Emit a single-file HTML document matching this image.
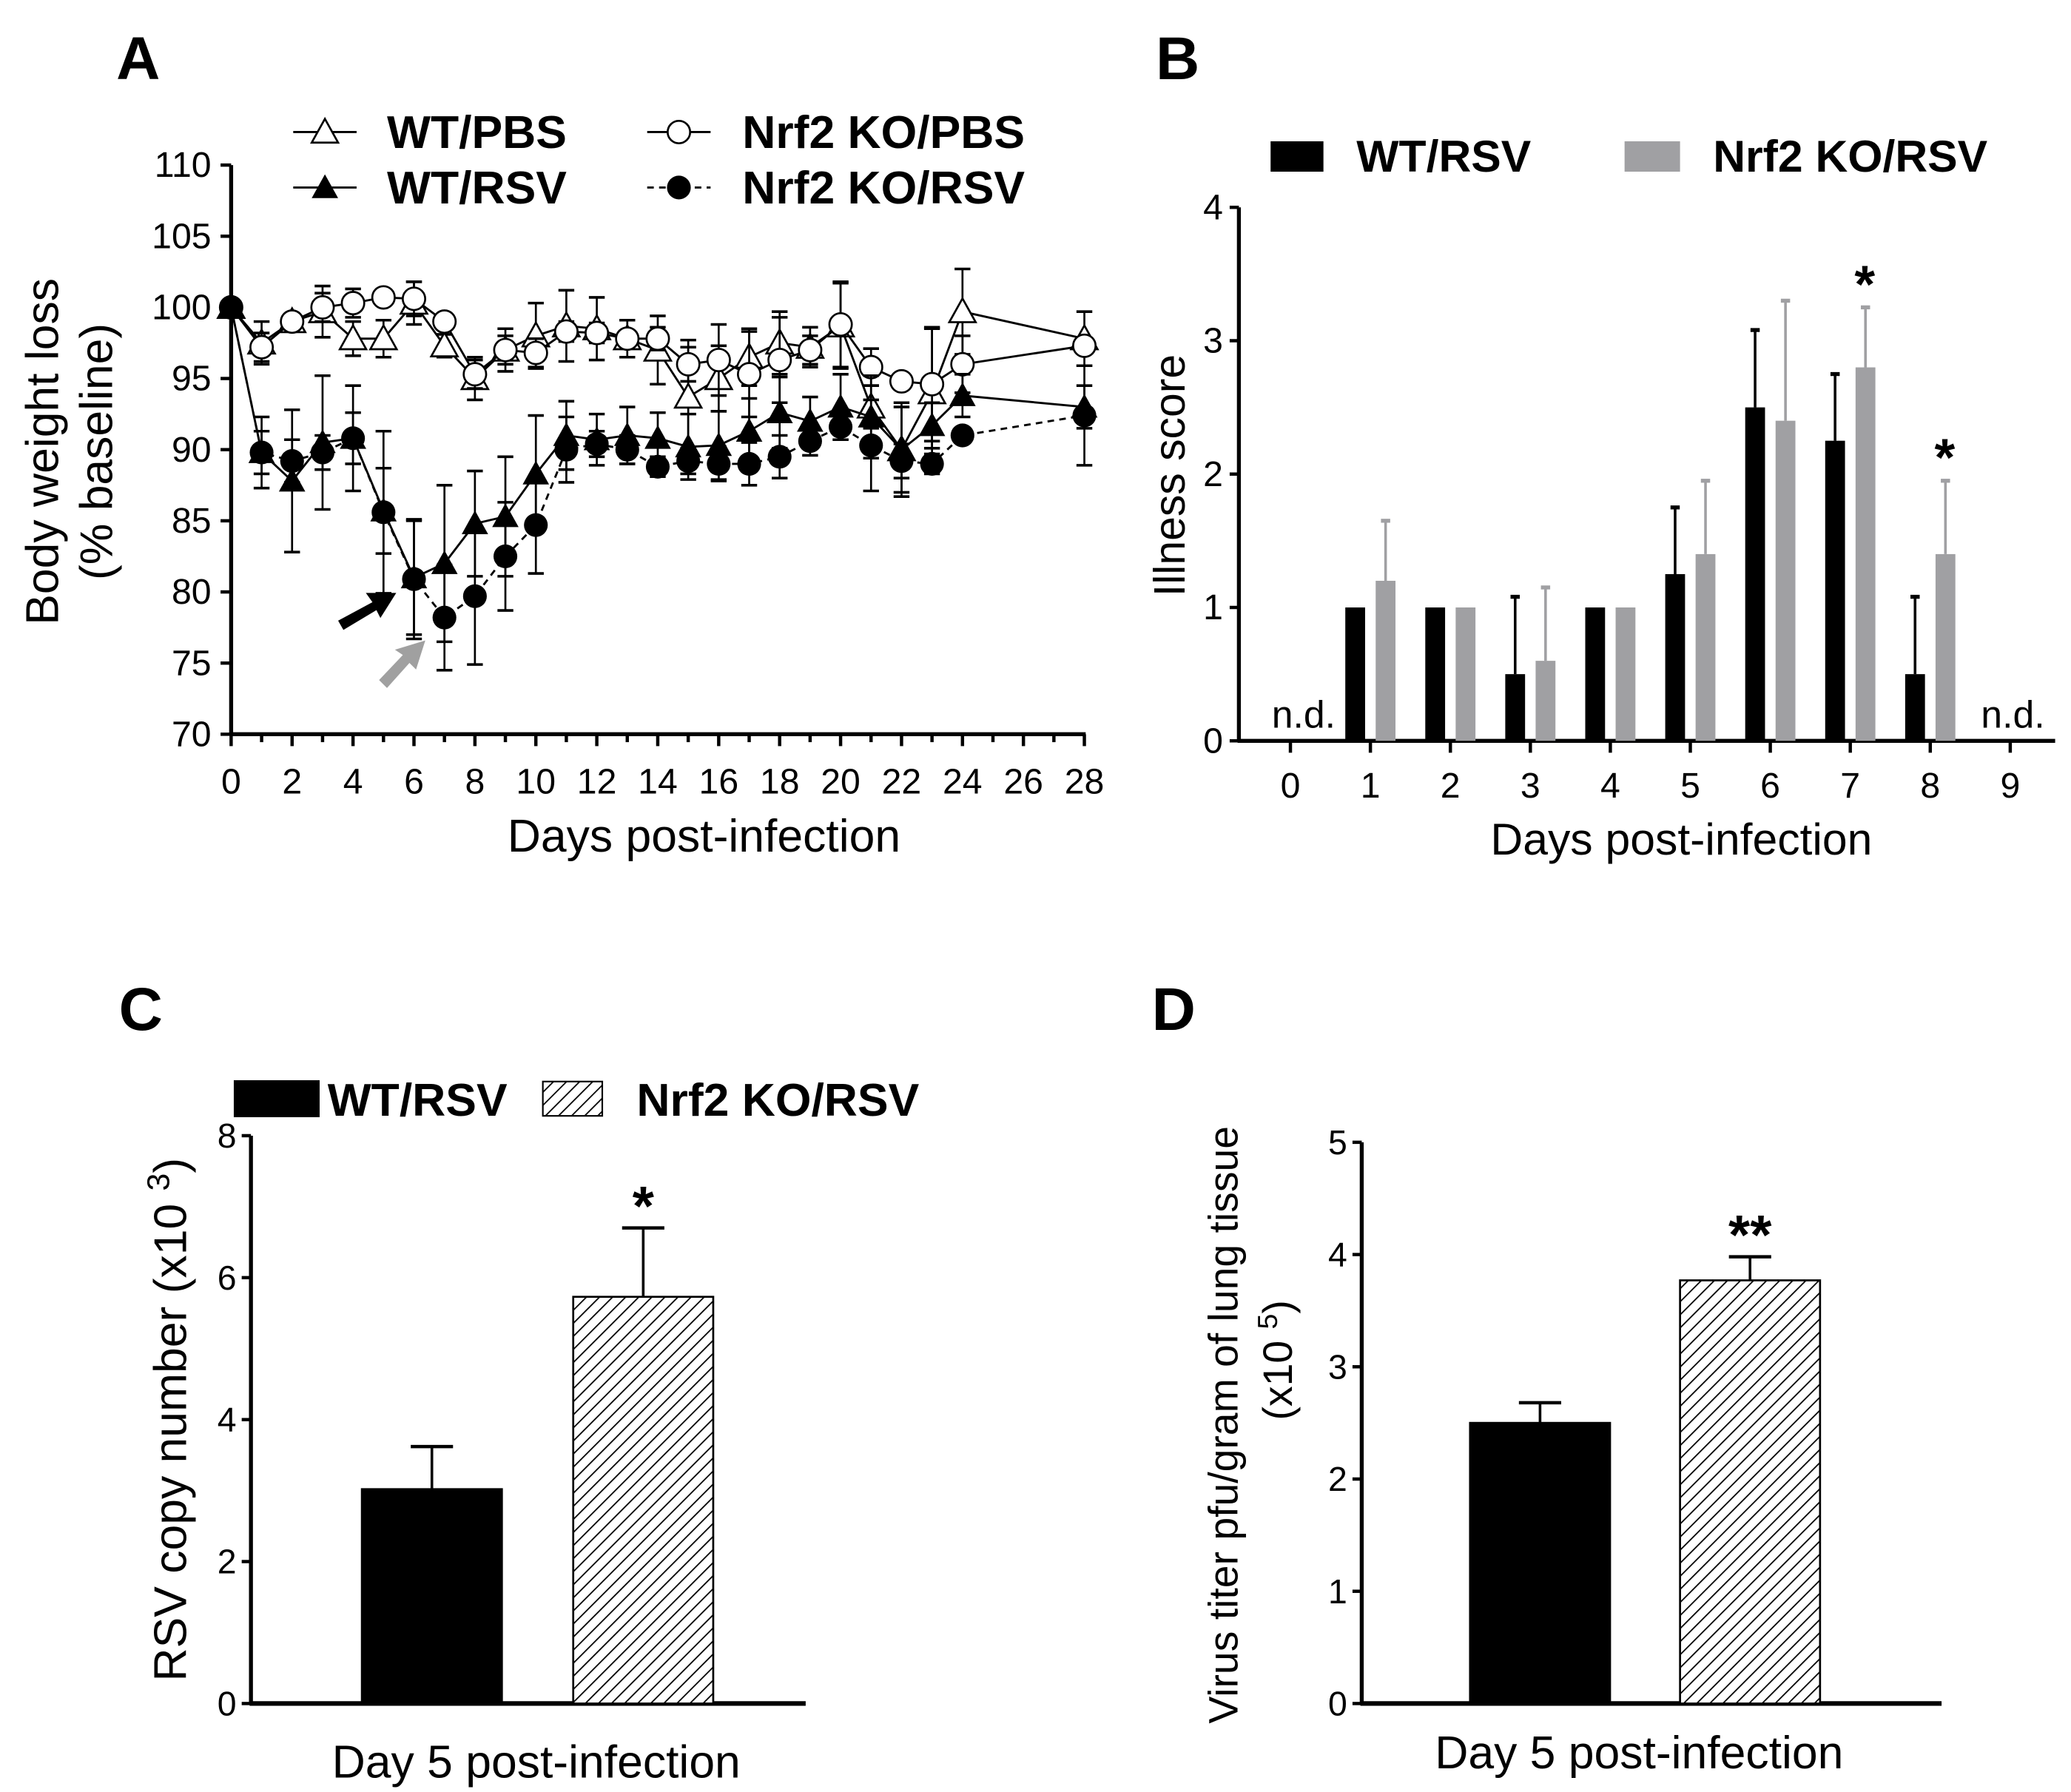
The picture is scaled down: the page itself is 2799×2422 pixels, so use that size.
<!DOCTYPE html>
<html><head><meta charset="utf-8">
<style>
html,body{margin:0;padding:0;background:#fff;}
svg{display:block;}
text{font-family:"Liberation Sans",Arial,sans-serif;fill:#000;}
</style></head>
<body>
<svg id="fig" width="2799" height="2422" viewBox="0 0 1568 1357" preserveAspectRatio="none" xmlns="http://www.w3.org/2000/svg">
<defs>
<pattern id="hatch" patternUnits="userSpaceOnUse" width="7" height="7" patternTransform="rotate(45)">
<rect width="7" height="7" fill="#fff"/><line x1="0" y1="0" x2="0" y2="7" stroke="#000" stroke-width="2"/>
</pattern>
</defs>
</svg>
<script>
// ---------- Panel A data ----------
const aDays=[0,1,2,3,4,5,6,7,8,9,10,11,12,13,14,15,16,17,18,19,20,21,22,23,24,28];
const wtPbs=[100,97.5,99,99.7,97.8,97.8,100.3,97.3,95,97,98,98.7,98.5,97.8,97,93.7,95,96.5,97.5,97.2,98.7,93,90,94,99.7,97.8];
const wtPbsErr=[0,1.5,0.5,1.8,1.2,1.3,1.5,0.8,1.5,1.5,2.3,2.5,2.2,1.3,2.4,4,2.3,2,2.2,1.4,3,1.5,3,4.5,3,1.9];
const koPbs=[100,97.2,99,100,100.3,100.7,100.6,99,95.3,97,96.8,98.3,98.2,97.8,97.8,96,96.3,95.3,96.3,97,98.8,95.8,94.8,94.6,96,97.3];
const koPbsErr=[0,1,0.5,1,1,0.5,1.2,0.5,1,1,1,0.7,0.7,0.5,0.8,1.2,2.5,3,3,1,3,1.3,0.5,4,2,0.5];
const wtRsv=[100,89.8,87.8,90.5,90.8,85.7,81,82,84.8,85.3,88.3,91,90.7,91,90.8,90.2,90.3,91.3,92.6,92,93,92.3,90,91.7,93.8,93];
const wtRsvErr=[0,2.5,5,4.7,3.7,3,4,5.5,3.7,4.2,4.1,2.4,1.8,2,1.8,2.3,2.4,2.3,2.5,1.7,2.3,2.9,3.3,1.6,1.5,1.5];
const koRsv=[100,89.8,89.2,89.8,90.8,85.6,80.9,78.2,79.7,82.5,84.7,90,90.4,90,88.8,89.2,89,89,89.5,90.6,91.6,90.3,89.2,89,91,92.4];
const koRsvErr=[0,1.5,1.5,1.2,1.8,5.7,4.2,3.7,4.8,3.8,3.4,2.3,0.9,1,0.7,0.9,1.2,1.5,1.5,1,0.9,3.2,1.2,0.7,0.5,3.5];
const aXTicks=[0,2,4,6,8,10,12,14,16,18,20,22,24,26,28];
const aYTicks=[70,75,80,85,90,95,100,105,110];
// ---------- Panel B data ----------
const bCats=[0,1,2,3,4,5,6,7,8,9];
const bWt=[null,1,1,0.5,1,1.25,2.5,2.25,0.5,null];
const bWtErr=[0,0,0,0.58,0,0.5,0.58,0.5,0.58,0];
const bKo=[null,1.2,1,0.6,1,1.4,2.4,2.8,1.4,null];
const bKoErr=[0,0.45,0,0.55,0,0.55,0.9,0.45,0.55,0];
const bYTicks=[0,1,2,3,4];
// ---------- Panel C data ----------
const cVals=[3.02,5.73];
const cErr=[0.6,0.97];
const cYTicks=[0,2,4,6,8];
// ---------- Panel D data ----------
const dVals=[2.5,3.77];
const dErr=[0.18,0.21];
const dYTicks=[0,1,2,3,4,5];

const NS="http://www.w3.org/2000/svg";
const svg=document.getElementById('fig');
function el(tag,attrs,parent){const e=document.createElementNS(NS,tag);for(const k in attrs)e.setAttribute(k,attrs[k]);(parent||svg).appendChild(e);return e;}
function txt(s,attrs,parent){const t=el('text',attrs,parent);t.textContent=s;return t;}

// ===== Panel A =====
const gA=el('g',{});


const ax=d=>175+d*(821-175)/28;
const ay=v=>556-(v-70)*(556-125)/40;
let t=txt('A',{x:88,y:60,'font-size':46,'font-weight':'bold'},gA);

el('line',{x1:175,y1:125,x2:175,y2:557,stroke:'#000','stroke-width':3},gA);
el('line',{x1:174,y1:556,x2:822,y2:556,stroke:'#000','stroke-width':3},gA);
aYTicks.forEach(v=>{el('line',{x1:167,y1:ay(v),x2:175,y2:ay(v),stroke:'#000','stroke-width':2.5},gA);
 const l=txt(String(v),{x:160,y:ay(v)+9,'font-size':27,'text-anchor':'end'},gA);
 });
for(let d=0;d<=28;d++){el('line',{x1:ax(d),y1:556,x2:ax(d),y2:d%2?562:565,stroke:'#000','stroke-width':2.5},gA);}
aXTicks.forEach(d=>{const l=txt(String(d),{x:ax(d),y:601,'font-size':27,'text-anchor':'middle'},gA);
 });
t=txt('Days post-infection',{x:533,y:645,'font-size':35,'text-anchor':'middle'},gA);

t=txt('Body weight loss',{x:0,y:0,'font-size':35,'text-anchor':'middle',transform:'translate(44,342) rotate(-90)'},gA);

t=txt('(% baseline)',{x:0,y:0,'font-size':35,'text-anchor':'middle',transform:'translate(85,342) rotate(-90)'},gA);


function marker(type,x,y,g){
 if(type==='otri')return el('polygon',{points:`${x},${y-10} ${x-10},${y+8} ${x+10},${y+8}`,fill:'#fff',stroke:'#000','stroke-width':1.5},g);
 if(type==='ftri')return el('polygon',{points:`${x},${y-10} ${x-10},${y+8} ${x+10},${y+8}`,fill:'#000'},g);
 if(type==='ocirc')return el('circle',{cx:x,cy:y,r:8.5,fill:'#fff',stroke:'#000','stroke-width':1.5},g);
 return el('circle',{cx:x,cy:y,r:9,fill:'#000'},g);
}
function series(vals,errs,type,dash,name){
 const g=el('g',{},gA);
 
 
 vals.forEach((v,i)=>{const e=errs[i];if(!e)return;const x=ax(aDays[i]);
  el('line',{x1:x,y1:ay(v-e),x2:x,y2:ay(v+e),stroke:'#000','stroke-width':1.5},g);
  [v-e,v+e].forEach(w=>el('line',{x1:x-6,y1:ay(w),x2:x+6,y2:ay(w),stroke:'#000','stroke-width':2},g));});
 const pts=vals.map((v,i)=>ax(aDays[i])+','+ay(v)).join(' ');
 const pl=el('polyline',{points:pts,fill:'none',stroke:'#000','stroke-width':1.6,'stroke-dasharray':dash||'none'},g);
 
 vals.forEach((v,i)=>{const m=marker(type,ax(aDays[i]),ay(v),g);
  });
}
series(wtPbs,wtPbsErr,'otri','', 'wt-pbs-series');
series(koPbs,koPbsErr,'ocirc','', 'nrf2-ko-pbs-series');
series(wtRsv,wtRsvErr,'ftri','', 'wt-rsv-series');
series(koRsv,koRsvErr,'fcirc','5,4', 'nrf2-ko-rsv-series');
// arrows
let ar=el('path',{d:'M256,470 L282,456 L277,449 L300,449 L288,468 L285,462 L260,477 Z',fill:'#000'},gA);

ar=el('path',{d:'M287,515 L305,496 L299,492 L322,485 L315,507 L310,502 L293,521 Z',fill:'#a0a0a0'},gA);

// legend A
const legA=[['otri','',222,100,'WT/PBS',293],['ftri','',222,142,'WT/RSV',293],['ocirc','',490,100,'Nrf2 KO/PBS',562],['fcirc','5,4',490,142,'Nrf2 KO/RSV',562]];
legA.forEach(l=>{const g=el('g',{},gA);
 
 el('line',{x1:l[2],y1:l[3],x2:l[2]+48,y2:l[3],stroke:'#000','stroke-width':1.6,'stroke-dasharray':l[1]||'none'},g);
 marker(l[0],l[2]+24,l[3],g);
 txt(l[4],{x:l[5],y:l[3]+12,'font-size':35,'font-weight':'bold'},g);});

// ===== Panel B =====
const gB=el('g',{});


const bx=c=>977+c*(1522-977)/9;
const by=v=>561-v*(561-157)/4;
t=txt('B',{x:875,y:60,'font-size':46,'font-weight':'bold'},gB);

el('line',{x1:938,y1:157,x2:938,y2:562,stroke:'#000','stroke-width':3},gB);
el('line',{x1:937,y1:561,x2:1556,y2:561,stroke:'#000','stroke-width':3},gB);
bYTicks.forEach(v=>{el('line',{x1:931,y1:by(v),x2:938,y2:by(v),stroke:'#000','stroke-width':2.5},gB);
 const l=txt(String(v),{x:926,y:by(v)+9,'font-size':27,'text-anchor':'end'},gB);
 });
bCats.forEach(c=>{el('line',{x1:bx(c),y1:561,x2:bx(c),y2:570,stroke:'#000','stroke-width':2.5},gB);
 const l=txt(String(c),{x:bx(c),y:604,'font-size':27,'text-anchor':'middle'},gB);
 });
function bBar(v,e,x0,color,name){if(v===null)return;
 const g=el('g',{},gB);
 
 el('rect',{x:x0,y:by(v),width:15,height:561-by(v),fill:color},g);
 if(e){el('line',{x1:x0+7.5,y1:by(v),x2:x0+7.5,y2:by(v+e),stroke:color,'stroke-width':2},g);
  el('line',{x1:x0+4,y1:by(v+e),x2:x0+11,y2:by(v+e),stroke:color,'stroke-width':3},g);}
}
bCats.forEach((c,i)=>{bBar(bWt[i],bWtErr[i],bx(c)-19,'#000','bar-wt-day'+c);bBar(bKo[i],bKoErr[i],bx(c)+4,'#a0a0a3','bar-ko-day'+c);});
t=txt('*',{x:bx(7)+11,y:by(bKo[7]+bKoErr[7])-4,'font-size':40,'font-weight':'bold','text-anchor':'middle'},gB);

t=txt('*',{x:bx(8)+11,y:by(bKo[8]+bKoErr[8])-4,'font-size':40,'font-weight':'bold','text-anchor':'middle'},gB);

t=txt('n.d.',{x:bx(0)+10,y:551,'font-size':29,'text-anchor':'middle'},gB);

t=txt('n.d.',{x:bx(9)+2,y:551,'font-size':29,'text-anchor':'middle'},gB);

t=txt('Days post-infection',{x:1273,y:647,'font-size':34,'text-anchor':'middle'},gB);

t=txt('Illness score',{x:0,y:0,'font-size':33,'text-anchor':'middle',transform:'translate(897,360) rotate(-90)'},gB);

let lg=el('g',{},gB);
el('rect',{x:962,y:107,width:40,height:23,fill:'#000'},lg);txt('WT/RSV',{x:1027,y:130,'font-size':34,'font-weight':'bold'},lg);
lg=el('g',{},gB);
el('rect',{x:1230,y:107,width:42,height:23,fill:'#a0a0a3'},lg);txt('Nrf2 KO/RSV',{x:1297,y:130,'font-size':34,'font-weight':'bold'},lg);

// ===== Panels C & D =====
function barPanel(o){
 const g=el('g',{});
 
 const y=v=>o.y0-v*(o.y0-o.yTop)/o.max;
 let l=txt(o.letter,{x:o.lx,y:780,'font-size':46,'font-weight':'bold'},g);
 
 el('line',{x1:o.ax,y1:y(o.max),x2:o.ax,y2:o.y0+1,stroke:'#000','stroke-width':3},g);
 el('line',{x1:o.ax-1,y1:o.y0,x2:o.axEnd,y2:o.y0,stroke:'#000','stroke-width':3.5},g);
 o.ticks.forEach(v=>{el('line',{x1:o.ax-7,y1:y(v),x2:o.ax,y2:y(v),stroke:'#000','stroke-width':2.5},g);
  const tl=txt(String(v),{x:o.ax-11,y:y(v)+9,'font-size':26,'text-anchor':'end'},g);
  });
 o.vals.forEach((v,i)=>{const x0=o.bx[i];const e=o.err[i];
  const r=el('rect',{x:x0,y:y(v),width:106,height:o.y0-y(v),fill:i?'url(#hatch)':'#000',stroke:'#000','stroke-width':1.5},g);
  
  el('line',{x1:x0+53,y1:y(v),x2:x0+53,y2:y(v+e),stroke:'#000','stroke-width':2},g);
  el('line',{x1:x0+37,y1:y(v+e),x2:x0+69,y2:y(v+e),stroke:'#000','stroke-width':2.5},g);});
 const st=txt(o.star,{x:o.bx[1]+53,y:y(o.vals[1]+o.err[1])-2,'font-size':42,'font-weight':'bold','text-anchor':'middle'},g);
 
 const xt=txt('Day 5 post-infection',{x:o.xtx,y:o.xty,'font-size':35,'text-anchor':'middle'},g);
 
 return g;
}
const gC=barPanel({name:'panel-c',letter:'C',lx:90,ax:190,axEnd:610,y0:1290,yTop:860,max:8,ticks:cYTicks,vals:cVals,err:cErr,bx:[274,434],star:'*',xtx:406,xty:1346});
t=el('text',{x:0,y:0,'font-size':35,'text-anchor':'middle',transform:'translate(141,1075) rotate(-90)'},gC);
t.innerHTML='RSV copy number (x10 <tspan dy="-13" font-size="24">3</tspan><tspan dy="13">)</tspan>';

lg=el('g',{},gC);
el('rect',{x:177,y:818,width:65,height:28,fill:'#000'},lg);txt('WT/RSV',{x:248,y:845,'font-size':35,'font-weight':'bold'},lg);
lg=el('g',{},gC);
el('rect',{x:411,y:819,width:45,height:26,fill:'url(#hatch)',stroke:'#000','stroke-width':1.2},lg);txt('Nrf2 KO/RSV',{x:482,y:845,'font-size':35,'font-weight':'bold'},lg);

const gD=barPanel({name:'panel-d',letter:'D',lx:872,ax:1031,axEnd:1470,y0:1290,yTop:865,max:5,ticks:dYTicks,vals:dVals,err:dErr,bx:[1113,1272],star:'**',xtx:1241,xty:1339});
t=txt('Virus titer pfu/gram of lung tissue',{x:0,y:0,'font-size':31,'text-anchor':'middle',transform:'translate(937,1079) rotate(-90)'},gD);

t=el('text',{x:0,y:0,'font-size':31,'text-anchor':'middle',transform:'translate(978,1030) rotate(-90)'},gD);
t.innerHTML='(x10 <tspan dy="-11" font-size="21">5</tspan><tspan dy="11">)</tspan>';

</script>
</body></html>
